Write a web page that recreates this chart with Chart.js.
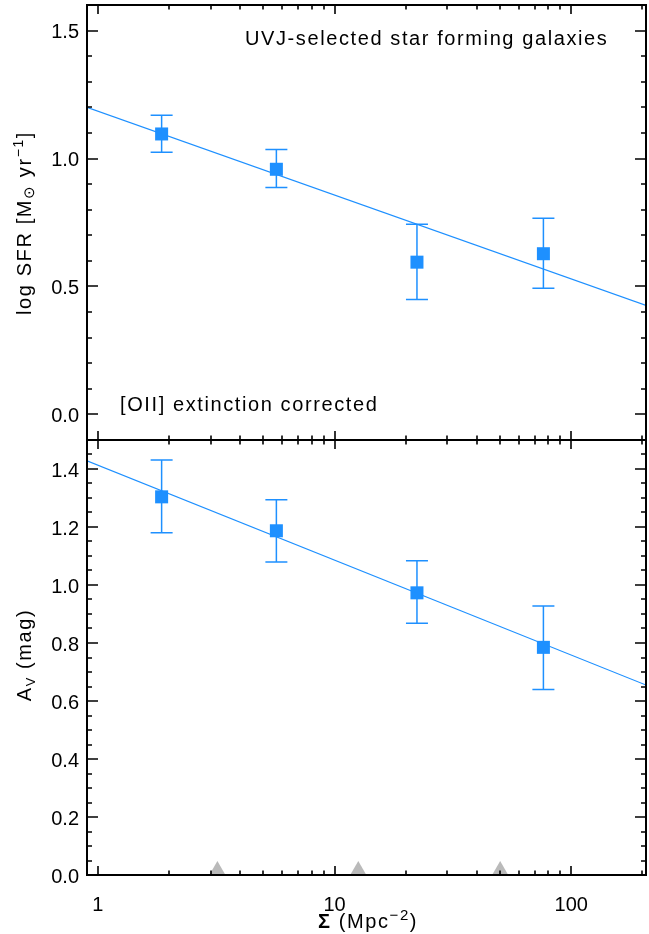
<!DOCTYPE html>
<html>
<head>
<meta charset="utf-8">
<title>SFR and extinction vs. local density</title>
<script src="https://cdn.jsdelivr.net/npm/chart.js@4.4.1/dist/chart.umd.min.js"></script>
<style>
  html, body { margin: 0; padding: 0; background: #fff; }
  #wrap { position: relative; width: 649px; height: 934px; }
  #wrap canvas { position: absolute; left: 0; }
  #sfrChart { top: 0; }
  #avChart { top: 435px; }
</style>
</head>
<body>
<div id="wrap">
  <canvas id="sfrChart" width="649" height="445"></canvas>
  <canvas id="avChart" width="649" height="499"></canvas>
</div>
<script>
// Binned measurements against surface density (Mpc^-2)
const sigma = [1.86, 5.68, 22.3, 76.3];
const logSfr = [1.096, 0.958, 0.595, 0.628];
const logSfrLo = [1.025, 0.887, 0.449, 0.493];
const logSfrHi = [1.169, 1.035, 0.743, 0.767];
const av = [1.304, 1.187, 0.973, 0.785];
const avLo = [1.180, 1.079, 0.868, 0.640];
const avHi = [1.431, 1.294, 1.084, 0.928];

// density bin edges, marked along the bottom axis
const binEdges = [3.2, 12.6, 50.1];

// linear fits in log(sigma), given at the two ends of the x range
const xRange = [0.9, 207];
const sfrFit = [1.200, 0.426];
const avFit = [1.428, 0.655];

// axis ticks
const sfrTicks = [0.0, 0.5, 1.0, 1.5];
const avTicks = [0.0, 0.2, 0.4, 0.6, 0.8, 1.0, 1.2, 1.4];
const sigmaTicks = [1, 10, 100];

const BLUE = '#1e90ff';
const FONT = '"Liberation Sans", Arial, Helvetica, sans-serif';

function stepValues(min, max, step) {
  const out = [];
  for (let i = Math.ceil(min / step - 1e-9); i * step <= max + 1e-9; i++) out.push(i * step);
  return out;
}

function logValues(min, max) {
  const out = [];
  for (let d = Math.floor(Math.log10(min)); d <= Math.ceil(Math.log10(max)); d++) {
    for (let k = 1; k <= 9; k++) {
      const v = k * Math.pow(10, d);
      if (v >= min && v <= max) out.push(v);
    }
  }
  return out;
}

// text with sub/superscripts, centred on (x, y) baseline; optionally rotated
function drawRich(ctx, parts, x, y, size, rotate) {
  ctx.save();
  ctx.translate(x, y);
  if (rotate) ctx.rotate(-Math.PI / 2);
  ctx.letterSpacing = '1.6px';
  const fontFor = p => (p.bold ? 'bold ' : '') + Math.round(size * (p.scale || 1)) + 'px ' + FONT;
  let total = 0;
  parts.forEach(p => { ctx.font = fontFor(p); p.w = ctx.measureText(p.t).width; total += p.w; });
  let cx = -total / 2;
  ctx.fillStyle = '#000';
  ctx.textBaseline = 'alphabetic';
  ctx.textAlign = 'left';
  parts.forEach(p => {
    ctx.font = fontFor(p);
    ctx.fillText(p.t, cx, p.dy || 0);
    cx += p.w;
  });
  ctx.restore();
}

// box frame with inward IDL-style ticks on all four sides
const framePlugin = {
  id: 'frame',
  afterDraw(chart, args, opts) {
    const { ctx, chartArea: a } = chart;
    const xs = chart.scales.x, ys = chart.scales.y;
    ctx.save();
    ctx.strokeStyle = '#000';
    ctx.lineWidth = 1.6;
    ctx.beginPath();
    stepValues(ys.min, ys.max, opts.yMinor).forEach(v => {
      const major = opts.yMajor.some(m => Math.abs(m - v) < 1e-6);
      const len = major ? 11 : 5;
      const py = Math.round(ys.getPixelForValue(v));
      ctx.moveTo(a.left, py); ctx.lineTo(a.left + len, py);
      ctx.moveTo(a.right, py); ctx.lineTo(a.right - len, py);
    });
    logValues(xs.min, xs.max).forEach(v => {
      const lg = Math.log10(v);
      const len = Math.abs(lg - Math.round(lg)) < 1e-9 ? 9 : 4.5;
      const px = Math.round(xs.getPixelForValue(v));
      ctx.moveTo(px, a.top); ctx.lineTo(px, a.top + len);
      ctx.moveTo(px, a.bottom); ctx.lineTo(px, a.bottom - len);
    });
    ctx.stroke();
    ctx.lineWidth = 2;
    ctx.strokeRect(a.left, a.top, a.right - a.left, a.bottom - a.top);
    ctx.restore();

    (opts.texts || []).forEach(t => t(ctx, a));
  }
};

// vertical error bars with caps, read from errLo / errHi on the dataset
const errorBarPlugin = {
  id: 'errorBars',
  beforeDatasetsDraw(chart) {
    const { ctx } = chart;
    const xs = chart.scales.x, ys = chart.scales.y;
    chart.data.datasets.forEach(ds => {
      if (!ds.errLo) return;
      ctx.save();
      ctx.strokeStyle = ds.backgroundColor;
      ctx.lineWidth = 1.5;
      ds.data.forEach((p, i) => {
        const px = xs.getPixelForValue(p.x);
        const lo = ys.getPixelForValue(ds.errLo[i]);
        const hi = ys.getPixelForValue(ds.errHi[i]);
        ctx.beginPath();
        ctx.moveTo(px, lo); ctx.lineTo(px, hi);
        ctx.moveTo(px - 11, lo); ctx.lineTo(px + 11, lo);
        ctx.moveTo(px - 11, hi); ctx.lineTo(px + 11, hi);
        ctx.stroke();
      });
      ctx.restore();
    });
  }
};

const tickFont = { family: FONT, size: 20 };
const noGrid = { display: false, drawTicks: false };

function yAxis(min, max, ticks) {
  return {
    type: 'linear', min: min, max: max,
    afterFit: s => { s.width = 87; s.paddingTop = 0; s.paddingBottom = 0; },
    afterBuildTicks: s => { s.ticks = ticks.map(v => ({ value: v })); },
    grid: noGrid, border: { display: false },
    ticks: { font: tickFont, color: '#000', padding: 8, labelOffset: 2, callback: v => v.toFixed(1) }
  };
}

function points(ys, lo, hi) {
  return {
    type: 'scatter',
    data: sigma.map((x, i) => ({ x: x, y: ys[i] })),
    errLo: lo, errHi: hi,
    pointStyle: 'rect', pointRadius: 9.2, pointHoverRadius: 9.2,
    backgroundColor: BLUE, borderWidth: 0
  };
}

function fitLine(ends) {
  return {
    type: 'scatter', showLine: true,
    data: xRange.map((x, i) => ({ x: x, y: ends[i] })),
    borderColor: BLUE, borderWidth: 1.1, pointRadius: 0, fill: false
  };
}

function label(text, dx, fromTop, dy) {
  return (ctx, a) => {
    ctx.save();
    ctx.letterSpacing = '1.6px';
    ctx.font = '20px ' + FONT;
    ctx.fillStyle = '#000';
    ctx.textBaseline = 'alphabetic';
    ctx.fillText(text, a.left + dx, fromTop ? a.top + dy : a.bottom - dy);
    ctx.restore();
  };
}

const common = {
  responsive: false,
  animation: false,
  events: []
};

new Chart(document.getElementById('sfrChart'), {
  type: 'scatter',
  data: { datasets: [fitLine(sfrFit), points(logSfr, logSfrLo, logSfrHi)] },
  options: Object.assign({}, common, {
    layout: { autoPadding: false, padding: { left: 0, right: 3, top: 5, bottom: 5 } },
    scales: {
      x: { type: 'logarithmic', min: xRange[0], max: xRange[1], display: false },
      y: yAxis(-0.1, 1.6, sfrTicks)
    },
    plugins: {
      legend: { display: false }, tooltip: { enabled: false },
      frame: {
        yMajor: sfrTicks, yMinor: 0.1,
        texts: [
          label('UVJ-selected star forming galaxies', 158, true, 40),
          label('[OII] extinction corrected', 33, false, 29),
          ctx => drawRich(ctx, [
            { t: 'log SFR [M' },
            { t: '\u2299', scale: 0.75, dy: 3 },
            { t: ' yr' },
            { t: '\u22121', scale: 0.7, dy: -8 },
            { t: ']' }
          ], 31, 223, 20, true)
        ]
      }
    }
  }),
  plugins: [errorBarPlugin, framePlugin]
});

new Chart(document.getElementById('avChart'), {
  type: 'scatter',
  data: {
    datasets: [
      fitLine(avFit),
      points(av, avLo, avHi),
      {
        type: 'scatter',
        data: binEdges.map(x => ({ x: x, y: 0 })),
        pointStyle: 'triangle', pointRadius: 14, pointHoverRadius: 14,
        backgroundColor: '#bababa', borderWidth: 0, clip: 0
      }
    ]
  },
  options: Object.assign({}, common, {
    layout: { autoPadding: false, padding: { left: 0, right: 3, top: 5, bottom: 0 } },
    scales: {
      x: {
        type: 'logarithmic', min: xRange[0], max: xRange[1],
        afterFit: s => { s.height = 59; s.paddingLeft = 0; s.paddingRight = 0; },
        afterBuildTicks: s => { s.ticks = sigmaTicks.map(v => ({ value: v })); },
        grid: noGrid, border: { display: false },
        ticks: { font: tickFont, color: '#000', padding: 18, maxRotation: 0, autoSkip: false, callback: v => String(v) }
      },
      y: yAxis(0, 1.5, avTicks)
    },
    plugins: {
      legend: { display: false }, tooltip: { enabled: false },
      frame: {
        yMajor: avTicks, yMinor: 0.05,
        texts: [
          ctx => drawRich(ctx, [
            { t: 'A' },
            { t: 'V', scale: 0.65, dy: 4 },
            { t: ' (mag)' }
          ], 31, 220, 20, true),
          ctx => drawRich(ctx, [
            { t: '\u03a3', bold: true },
            { t: ' (Mpc' },
            { t: '\u22122', scale: 0.75, dy: -8 },
            { t: ')' }
          ], 368, 493, 20, false)
        ]
      }
    }
  }),
  plugins: [errorBarPlugin, framePlugin]
});
</script>
</body>
</html>
